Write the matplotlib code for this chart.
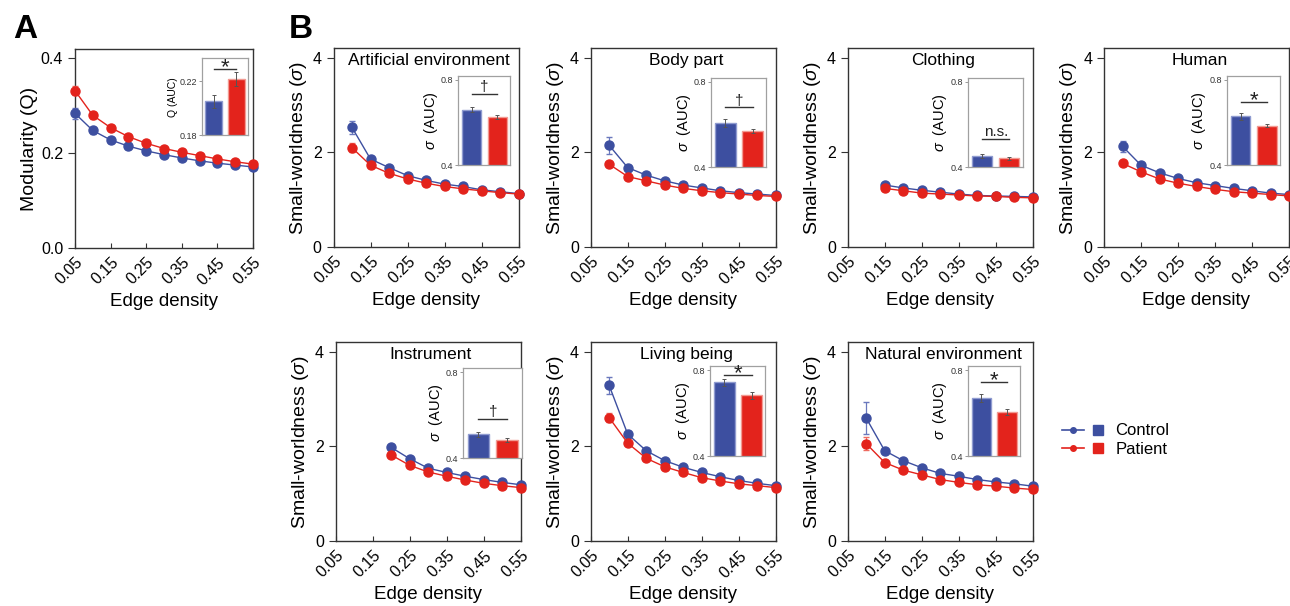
import matplotlib
matplotlib.use('Agg')
import matplotlib.pyplot as plt
from matplotlib.lines import Line2D
from matplotlib.legend_handler import HandlerTuple

plt.rcParams['font.family'] = ['Liberation Sans', 'DejaVu Sans']
plt.rcParams['mathtext.fontset'] = 'custom'
plt.rcParams['mathtext.rm'] = 'Liberation Sans'
plt.rcParams['mathtext.it'] = 'Liberation Sans:italic'

BLUE = '#3d4fa0'
RED = '#e3231c'
BLUE_EDGE = '#8f9bd0'
RED_EDGE = '#f29a92'

# ---- data ----
density = [0.05, 0.10, 0.15, 0.20, 0.25, 0.30, 0.35, 0.40, 0.45, 0.50, 0.55]

mod_control = [0.284, 0.248, 0.228, 0.215, 0.205, 0.197, 0.190, 0.184, 0.179, 0.175, 0.171]
mod_patient = [0.332, 0.280, 0.254, 0.235, 0.221, 0.210, 0.202, 0.195, 0.188, 0.182, 0.177]
mod_control_err = [0.011, 0.008, 0.006, 0.005, 0.004, 0.004, 0.003, 0.003, 0.003, 0.003, 0.003]
mod_patient_err = [0.009, 0.008, 0.006, 0.005, 0.004, 0.004, 0.003, 0.003, 0.003, 0.003, 0.003]
mod_auc = [0.205, 0.2217]
mod_auc_err = [0.005, 0.005]

categories = ['Artificial environment', 'Body part', 'Clothing', 'Human',
              'Instrument', 'Living being', 'Natural environment']

art_control = [2.53, 1.86, 1.68, 1.51, 1.41, 1.33, 1.28, 1.21, 1.17, 1.13]
art_patient = [2.10, 1.73, 1.56, 1.44, 1.35, 1.28, 1.23, 1.19, 1.15, 1.12]
art_control_err = [0.14, 0.05, 0.04, 0.03, 0.03, 0.02, 0.02, 0.02, 0.02, 0.02]
art_patient_err = [0.10, 0.05, 0.04, 0.03, 0.03, 0.02, 0.02, 0.02, 0.02, 0.02]

body_control = [2.15, 1.68, 1.52, 1.40, 1.31, 1.25, 1.19, 1.15, 1.12, 1.09]
body_patient = [1.75, 1.49, 1.40, 1.31, 1.24, 1.19, 1.15, 1.12, 1.09, 1.07]
body_control_err = [0.18, 0.05, 0.04, 0.03, 0.03, 0.02, 0.02, 0.02, 0.02, 0.02]
body_patient_err = [0.04, 0.03, 0.03, 0.02, 0.02, 0.02, 0.02, 0.02, 0.02, 0.02]

cloth_control = [1.31, 1.25, 1.20, 1.16, 1.12, 1.09, 1.08, 1.07, 1.06]
cloth_patient = [1.24, 1.19, 1.14, 1.12, 1.10, 1.08, 1.07, 1.05, 1.04]
cloth_control_err = [0.03, 0.02, 0.02, 0.02, 0.02, 0.02, 0.02, 0.02, 0.02]
cloth_patient_err = [0.03, 0.02, 0.02, 0.02, 0.02, 0.02, 0.02, 0.02, 0.02]

human_control = [2.13, 1.73, 1.57, 1.45, 1.36, 1.30, 1.24, 1.19, 1.14, 1.11]
human_patient = [1.77, 1.59, 1.44, 1.35, 1.28, 1.22, 1.17, 1.14, 1.11, 1.08]
human_control_err = [0.11, 0.05, 0.04, 0.03, 0.03, 0.02, 0.02, 0.02, 0.02, 0.02]
human_patient_err = [0.03, 0.03, 0.03, 0.02, 0.02, 0.02, 0.02, 0.02, 0.02, 0.02]

instr_control = [1.98, 1.74, 1.54, 1.45, 1.37, 1.30, 1.24, 1.19]
instr_patient = [1.82, 1.60, 1.46, 1.37, 1.29, 1.22, 1.17, 1.13]
instr_control_err = [0.06, 0.04, 0.03, 0.03, 0.02, 0.02, 0.02, 0.02]
instr_patient_err = [0.04, 0.03, 0.03, 0.02, 0.02, 0.02, 0.02, 0.02]

living_control = [3.29, 2.26, 1.91, 1.70, 1.56, 1.45, 1.36, 1.28, 1.22, 1.17]
living_patient = [2.61, 2.07, 1.75, 1.57, 1.45, 1.34, 1.27, 1.21, 1.17, 1.13]
living_control_err = [0.19, 0.06, 0.04, 0.03, 0.03, 0.02, 0.02, 0.02, 0.02, 0.02]
living_patient_err = [0.10, 0.04, 0.03, 0.03, 0.02, 0.02, 0.02, 0.02, 0.02, 0.02]

natural_control = [2.60, 1.91, 1.70, 1.55, 1.43, 1.37, 1.30, 1.25, 1.21, 1.16]
natural_patient = [2.06, 1.66, 1.50, 1.40, 1.30, 1.24, 1.19, 1.16, 1.12, 1.09]
natural_control_err = [0.34, 0.05, 0.04, 0.03, 0.03, 0.02, 0.02, 0.02, 0.02, 0.02]
natural_patient_err = [0.13, 0.04, 0.03, 0.03, 0.02, 0.02, 0.02, 0.02, 0.02, 0.02]

# AUC inset bars: control, patient
auc_control = [0.660, 0.607, 0.453, 0.629, 0.510, 0.743, 0.671]
auc_patient = [0.626, 0.569, 0.442, 0.585, 0.483, 0.682, 0.605]
auc_control_err = [0.012, 0.018, 0.008, 0.015, 0.010, 0.015, 0.020]
auc_patient_err = [0.010, 0.010, 0.007, 0.007, 0.010, 0.015, 0.015]
sig_level = [0.735, 0.681, 0.533, 0.696, 0.583, 0.777, 0.743]
sig_label = ['\u2020', '\u2020', 'n.s.', '*', '\u2020', '*', '*']

controls = [art_control, body_control, cloth_control, human_control,
            instr_control, living_control, natural_control]
patients = [art_patient, body_patient, cloth_patient, human_patient,
            instr_patient, living_patient, natural_patient]
controls_err = [art_control_err, body_control_err, cloth_control_err, human_control_err,
                instr_control_err, living_control_err, natural_control_err]
patients_err = [art_patient_err, body_patient_err, cloth_patient_err, human_patient_err,
                instr_patient_err, living_patient_err, natural_patient_err]

# ---- layout (figure pixels: left, top of axes) ----
W, H = 1290, 606
AX_W, AX_H = 185, 199
panel_pos = [(333.5, 48), (590.7, 48), (847.7, 48), (1104, 48),
             (335.7, 342), (590.7, 342), (847.7, 342)]
inset_rect = [[0.675, 0.41, 0.28, 0.45], [0.652, 0.40, 0.296, 0.45],
              [0.650, 0.40, 0.297, 0.45], [0.665, 0.41, 0.286, 0.45],
              [0.690, 0.417, 0.315, 0.452], [0.647, 0.427, 0.296, 0.452],
              [0.650, 0.427, 0.280, 0.452]]

fig = plt.figure(figsize=(W / 100, H / 100), dpi=100)


def add_axes_px(left, top, w=AX_W, h=AX_H):
	return fig.add_axes([left / W, 1 - (top + h) / H, w / W, h / H])


def style_main(ax):
	for s in ax.spines.values():
		s.set_color('#333333')
		s.set_linewidth(1.0)
	ax.set_xlim(0.05, 0.55)
	ax.set_xticks([0.05, 0.15, 0.25, 0.35, 0.45, 0.55])
	ax.set_xticklabels(['0.05', '0.15', '0.25', '0.35', '0.45', '0.55'],
		rotation=45, ha='right', va='top', rotation_mode='anchor', fontsize=11.5)
	ax.tick_params(axis='x', direction='in', length=3.5, width=0.8, color='#333333', pad=5)
	ax.tick_params(axis='y', direction='out', length=5, width=0.8, color='#333333', labelsize=11.5)
	ax.set_xlabel('Edge density', fontsize=13.5, labelpad=4)


def draw_lines(ax, ctrl, ctrl_err, pat, pat_err):
	x = density[len(density) - len(ctrl):]
	ax.errorbar(x, ctrl, yerr=ctrl_err, color=BLUE, marker='o', ms=6.5, lw=1.0,
		elinewidth=0.9, capsize=2.5, ecolor='#6a78bd', clip_on=False, zorder=3)
	x = density[len(density) - len(pat):]
	ax.errorbar(x, pat, yerr=pat_err, color=RED, marker='o', ms=6.5, lw=1.0,
		elinewidth=0.9, capsize=2.5, ecolor='#ee6a60', clip_on=False, zorder=4)


def draw_inset(ax, rect, vals, errs, ylim, yticks, yticklabels, label, label_size, sig_y, sig):
	ins = ax.inset_axes(rect)
	ins.bar([0, 1], vals, width=0.75, color=[BLUE, RED], edgecolor=[BLUE_EDGE, RED_EDGE],
		linewidth=1.0, zorder=2)
	ins.errorbar([0, 1], vals, yerr=errs, fmt='none', ecolor='#555555', elinewidth=0.7,
		capsize=1.2, capthick=0.7, zorder=3)
	ins.set_xlim(-0.52, 1.5)
	ins.set_ylim(*ylim)
	ins.set_xticks([])
	ins.set_yticks(yticks)
	ins.set_yticklabels(yticklabels)
	ins.tick_params(axis='y', direction='out', length=2, width=0.6, color='#888888',
		labelsize=6.5, pad=1.5, labelcolor='#333333')
	for s in ins.spines.values():
		s.set_color('#a0a0a0')
		s.set_linewidth(0.9)
	ins.set_ylabel(label, fontsize=label_size, labelpad=1)
	ins.plot([0, 1], [sig_y, sig_y], color='#333333', lw=1.0, zorder=4)
	# asterisk glyph sits high in its box, so pull it down onto the line
	if sig == '*':
		fs, dy = 16, -3.0
	else:
		fs, dy = 11, 2.0
	ins.annotate(sig, (0.5, sig_y), xytext=(0, dy), textcoords='offset points',
		ha='center', va='baseline', fontsize=fs, color='#222222', zorder=4,
		annotation_clip=False)
	return ins


# ---- panel A ----
axA = add_axes_px(75, 49, 178, 199)
style_main(axA)
draw_lines(axA, mod_control, mod_control_err, mod_patient, mod_patient_err)
axA.set_ylim(0, 0.42)
axA.set_yticks([0.0, 0.2, 0.4])
axA.set_yticklabels(['0.0', '0.2', '0.4'])
axA.set_ylabel('Modularity (Q)', fontsize=14, labelpad=2)
draw_inset(axA, [0.713, 0.566, 0.258, 0.389], mod_auc, mod_auc_err, (0.18, 0.237),
	[0.18, 0.22], ['0.18', '0.22'], 'Q (AUC)', 7.5, 0.229, '*')

# ---- panel B ----
for i, cat in enumerate(categories):
	left, top = panel_pos[i]
	ax = add_axes_px(left, top)
	style_main(ax)
	draw_lines(ax, controls[i], controls_err[i], patients[i], patients_err[i])
	ax.set_ylim(0, 4.21)
	ax.set_yticks([0, 2, 4])
	ax.set_ylabel(r'Small-worldness ($\sigma$)', fontsize=14, labelpad=3)
	ax.text(0.515, 0.975, cat, transform=ax.transAxes, ha='center', va='top', fontsize=12.5)
	draw_inset(ax, inset_rect[i], [auc_control[i], auc_patient[i]],
		[auc_control_err[i], auc_patient_err[i]], (0.4, 0.819), [0.4, 0.8], ['0.4', '0.8'],
		r'$\sigma$  (AUC)', 10.5, sig_level[i], sig_label[i])

# panel letters
fig.text(13 / W, 1 - 38 / H, 'A', fontsize=24, fontweight='bold', va='baseline')
fig.text(289 / W, 1 - 38 / H, 'B', fontsize=24, fontweight='bold', va='baseline')

# legend
handles = [
	(Line2D([], [], color=BLUE, marker='o', ms=4, lw=1.2),
	 Line2D([], [], color=BLUE, marker='s', ls='none', ms=7)),
	(Line2D([], [], color=RED, marker='o', ms=4, lw=1.2),
	 Line2D([], [], color=RED, marker='s', ls='none', ms=7)),
]
fig.legend(handles, ['Control', 'Patient'], handler_map={tuple: HandlerTuple(ndivide=2, pad=0.2)},
	loc='center left', bbox_to_anchor=(1062 / W, 1 - 440 / H), frameon=False, fontsize=12,
	handlelength=2.8, handletextpad=0.4, labelspacing=0.2, borderaxespad=0, borderpad=0)

fig.savefig('out.png', dpi=100)
